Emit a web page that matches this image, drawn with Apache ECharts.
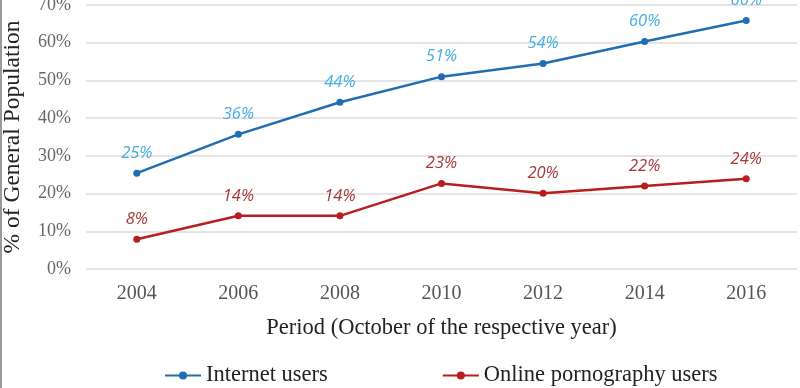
<!DOCTYPE html>
<html>
<head>
<meta charset="utf-8">
<script src="https://cdn.jsdelivr.net/npm/echarts@6/dist/echarts.min.js"></script>
<style>html,body{margin:0;padding:0;background:#fff}#c{width:800px;height:388px}</style>
</head>
<body>
<div id="c"></div>
<script>
const categories = ['2004','2006','2008','2010','2012','2014','2016'];
const internetUsers = [25.4, 35.7, 44.2, 51.0, 54.5, 60.3, 65.9];
const pornUsers = [7.9, 14.1, 14.1, 22.7, 20.1, 22.0, 23.9];
const internetLabels = ['25%','36%','44%','51%','54%','60%','66%'];
const pornLabels = ['8%','14%','14%','23%','20%','22%','24%'];
const yTicks = [0,10,20,30,40,50,60,70];

const chart = echarts.init(document.getElementById('c'));
const serif = '"Liberation Serif", "DejaVu Serif", serif';
chart.setOption({
  animation: false,
  grid: {left: 86, right: 3, top: 5, bottom: 119, containLabel: false, outerBoundsMode: 'none'},
  graphic: [{type:'rect', shape:{x:0,y:0,width:2,height:388}, style:{fill:'#9a9a9a'}}],
  legend: {
    top: 359, left: 159, itemGap: 114, itemWidth: 36, itemHeight: 10,
    textStyle: {fontFamily: serif, fontSize: 22.5, color: '#222'},
    data: ['Internet users', 'Online pornography users']
  },
  xAxis: {
    type: 'category', data: categories, boundaryGap: true,
    name: 'Period (October of the respective year)', nameLocation: 'middle', nameGap: 48,
    nameTextStyle: {fontFamily: serif, fontSize: 22.5, color: '#222'},
    axisLine: {show: false}, axisTick: {show: false},
    axisLabel: {fontFamily: serif, fontSize: 20, color: '#555', margin: 15}
  },
  yAxis: {
    type: 'value', min: 0, max: 70, interval: 10,
    name: '% of General Population', nameLocation: 'middle', nameGap: 61,
    nameTextStyle: {fontFamily: serif, fontSize: 23.5, color: '#222'},
    axisLine: {show: false}, axisTick: {show: false},
    axisLabel: {fontFamily: serif, fontSize: 18, color: '#666', margin: 15,
      formatter: v => yTicks.includes(v) ? v + '%' : ''},
    splitLine: {lineStyle: {color: '#dcdcdc', width: 1.5}}
  },
  series: [
    {
      name: 'Internet users', type: 'line', data: internetUsers,
      symbol: 'circle', symbolSize: 7,
      lineStyle: {color: '#1f6db3', width: 2.5}, itemStyle: {color: '#1f6db3'},
      label: {show: true, position: 'top', distance: 8, color: '#45aee0',
        fontFamily: '"Open Sans", sans-serif', fontStyle: 'italic', fontSize: 16.5,
        formatter: p => internetLabels[p.dataIndex]}
    },
    {
      name: 'Online pornography users', type: 'line', data: pornUsers,
      symbol: 'circle', symbolSize: 7,
      lineStyle: {color: '#b81d1f', width: 2.5}, itemStyle: {color: '#b81d1f'},
      label: {show: true, position: 'top', distance: 8, color: '#a53a3a',
        fontFamily: '"Open Sans", sans-serif', fontStyle: 'italic', fontSize: 16.5,
        formatter: p => pornLabels[p.dataIndex]}
    }
  ]
});
</script>
</body>
</html>
